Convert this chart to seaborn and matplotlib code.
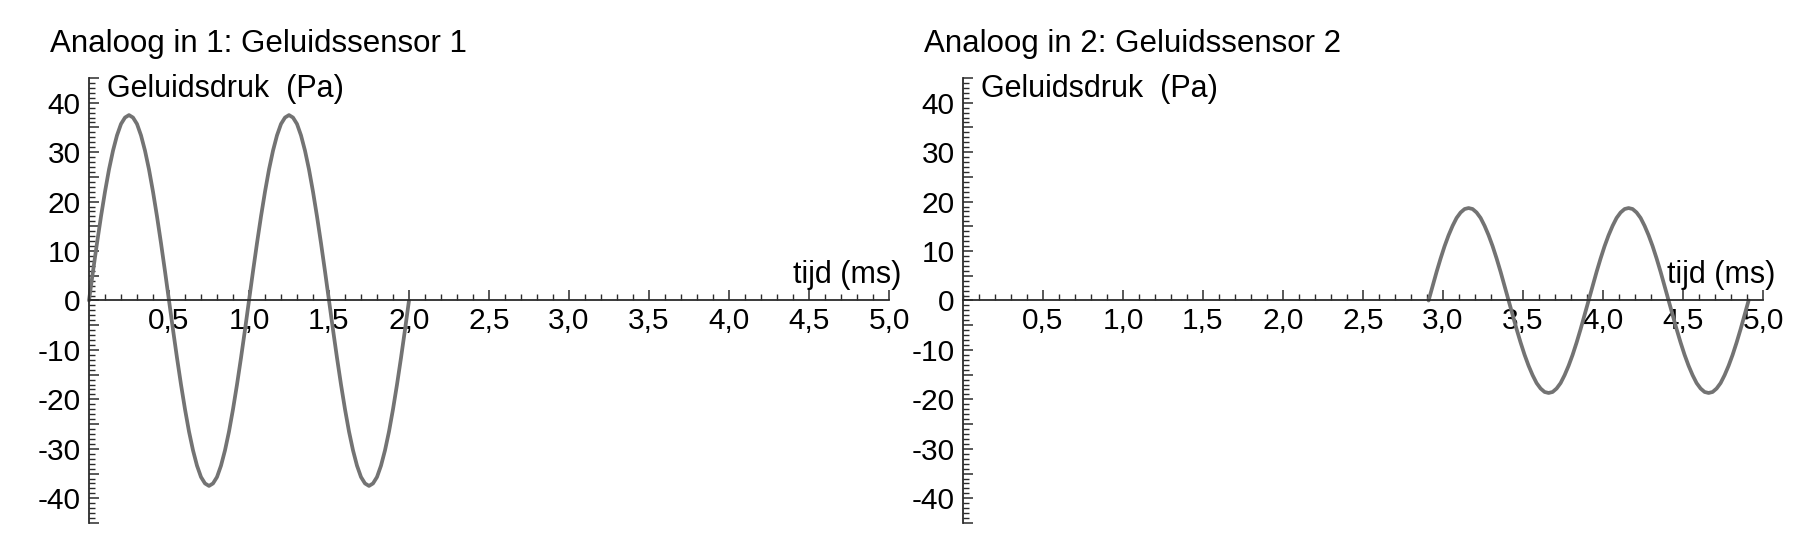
import pandas as pd
import matplotlib
matplotlib.use("Agg")
import matplotlib.pyplot as plt
from matplotlib.ticker import MultipleLocator, FixedLocator, FuncFormatter
import seaborn as sns

# tijd (ms) en geluidsdruk (Pa)
t_sensor1 = [0.000, 0.025, 0.050, 0.075, 0.100, 0.125, 0.150, 0.175, 0.200, 0.225,
             0.250, 0.275, 0.300, 0.325, 0.350, 0.375, 0.400, 0.425, 0.450, 0.475,
             0.500, 0.525, 0.550, 0.575, 0.600, 0.625, 0.650, 0.675, 0.700, 0.725,
             0.750, 0.775, 0.800, 0.825, 0.850, 0.875, 0.900, 0.925, 0.950, 0.975,
             1.000, 1.025, 1.050, 1.075, 1.100, 1.125, 1.150, 1.175, 1.200, 1.225,
             1.250, 1.275, 1.300, 1.325, 1.350, 1.375, 1.400, 1.425, 1.450, 1.475,
             1.500, 1.525, 1.550, 1.575, 1.600, 1.625, 1.650, 1.675, 1.700, 1.725,
             1.750, 1.775, 1.800, 1.825, 1.850, 1.875, 1.900, 1.925, 1.950, 1.975,
             2.000]
p_sensor1 = [0.0, 5.9, 11.6, 17.0, 22.0, 26.5, 30.3, 33.4, 35.7, 37.0,
             37.5, 37.0, 35.7, 33.4, 30.3, 26.5, 22.0, 17.0, 11.6, 5.9,
             0.0, -5.9, -11.6, -17.0, -22.0, -26.5, -30.3, -33.4, -35.7, -37.0,
             -37.5, -37.0, -35.7, -33.4, -30.3, -26.5, -22.0, -17.0, -11.6, -5.9,
             0.0, 5.9, 11.6, 17.0, 22.0, 26.5, 30.3, 33.4, 35.7, 37.0,
             37.5, 37.0, 35.7, 33.4, 30.3, 26.5, 22.0, 17.0, 11.6, 5.9,
             0.0, -5.9, -11.6, -17.0, -22.0, -26.5, -30.3, -33.4, -35.7, -37.0,
             -37.5, -37.0, -35.7, -33.4, -30.3, -26.5, -22.0, -17.0, -11.6, -5.9,
             0.0]

t_sensor2 = [2.910, 2.935, 2.960, 2.985, 3.010, 3.035, 3.060, 3.085, 3.110, 3.135,
             3.160, 3.185, 3.210, 3.235, 3.260, 3.285, 3.310, 3.335, 3.360, 3.385,
             3.410, 3.435, 3.460, 3.485, 3.510, 3.535, 3.560, 3.585, 3.610, 3.635,
             3.660, 3.685, 3.710, 3.735, 3.760, 3.785, 3.810, 3.835, 3.860, 3.885,
             3.910, 3.935, 3.960, 3.985, 4.010, 4.035, 4.060, 4.085, 4.110, 4.135,
             4.160, 4.185, 4.210, 4.235, 4.260, 4.285, 4.310, 4.335, 4.360, 4.385,
             4.410, 4.435, 4.460, 4.485, 4.510, 4.535, 4.560, 4.585, 4.610, 4.635,
             4.660, 4.685, 4.710, 4.735, 4.760, 4.785, 4.810, 4.835, 4.860, 4.885,
             4.910]
p_sensor2 = [0.0, 2.9, 5.8, 8.5, 11.0, 13.2, 15.1, 16.7, 17.8, 18.5,
             18.7, 18.5, 17.8, 16.7, 15.1, 13.2, 11.0, 8.5, 5.8, 2.9,
             0.0, -2.9, -5.8, -8.5, -11.0, -13.2, -15.1, -16.7, -17.8, -18.5,
             -18.7, -18.5, -17.8, -16.7, -15.1, -13.2, -11.0, -8.5, -5.8, -2.9,
             0.0, 2.9, 5.8, 8.5, 11.0, 13.2, 15.1, 16.7, 17.8, 18.5,
             18.7, 18.5, 17.8, 16.7, 15.1, 13.2, 11.0, 8.5, 5.8, 2.9,
             0.0, -2.9, -5.8, -8.5, -11.0, -13.2, -15.1, -16.7, -17.8, -18.5,
             -18.7, -18.5, -17.8, -16.7, -15.1, -13.2, -11.0, -8.5, -5.8, -2.9,
             0.0]

titles = ["Analoog in 1: Geluidssensor 1", "Analoog in 2: Geluidssensor 2"]
x_ticks = [0.5, 1.0, 1.5, 2.0, 2.5, 3.0, 3.5, 4.0, 4.5, 5.0]
y_ticks = [-40, -30, -20, -10, 0, 10, 20, 30, 40]

sns.set_style("white")
plt.rcParams["font.family"] = ["Liberation Sans", "DejaVu Sans"]
plt.rcParams["axes.unicode_minus"] = False
plt.rcParams["text.color"] = "black"
plt.rcParams["xtick.color"] = "black"
plt.rcParams["ytick.color"] = "black"

fig = plt.figure(figsize=(18.2, 5.38), dpi=100)
W, H = 1820, 538

line_col = "#737373"
axis_col = "#2b2b2b"


def style_axes(ax):
    ax.set_xlim(0, 5.0)
    ax.set_ylim(-45, 45)
    for s in ["top", "right"]:
        ax.spines[s].set_visible(False)
    ax.spines["left"].set_position(("data", 0))
    ax.spines["bottom"].set_position(("data", 0))
    for s in ["left", "bottom"]:
        ax.spines[s].set_color(axis_col)
        ax.spines[s].set_linewidth(1.3)
    ax.xaxis.set_major_locator(FixedLocator(x_ticks))
    ax.xaxis.set_minor_locator(MultipleLocator(0.1))
    ax.xaxis.set_major_formatter(FuncFormatter(lambda v, p: f"{v:.1f}".replace(".", ",")))
    ax.yaxis.set_major_locator(MultipleLocator(5))
    ax.yaxis.set_minor_locator(MultipleLocator(1))
    ax.yaxis.set_major_formatter(FuncFormatter(
        lambda v, p: f"{int(round(v))}" if int(round(v)) in y_ticks else ""))
    ax.tick_params(which="both", bottom=True, left=True, top=False, right=False)
    ax.tick_params(axis="x", which="major", direction="in", length=7, width=1.1,
                   color=axis_col, labelsize=21.5, pad=5)
    ax.tick_params(axis="x", which="minor", direction="in", length=4.5, width=1.0,
                   color=axis_col)
    ax.tick_params(axis="y", which="major", direction="in", length=7, width=1.1,
                   color=axis_col, labelsize=21.5, pad=6)
    ax.tick_params(axis="y", which="minor", direction="in", length=4, width=1.0,
                   color=axis_col)
    ax.set_xlabel("")
    ax.set_ylabel("")
    ax.text(0.11, 41.2, "Geluidsdruk  (Pa)", fontsize=22, ha="left", va="baseline")
    ax.text(5.08, 3.6, "tijd (ms)", fontsize=22, ha="right", va="baseline", clip_on=False)


panels = [
    (89, t_sensor1, p_sensor1, titles[0]),
    (963, t_sensor2, p_sensor2, titles[1]),
]
for x0, t, p, title in panels:
    ax = fig.add_axes([x0 / W, 1 - 523 / H, 800 / W, 445 / H])
    ax.patch.set_alpha(0)
    df = pd.DataFrame({"tijd": t, "druk": p})
    sns.lineplot(data=df, x="tijd", y="druk", ax=ax, color=line_col,
                 linewidth=2.7, clip_on=False)
    style_axes(ax)
    fig.text((x0 - 39) / W, 1 - 52 / H, title, fontsize=22.5, ha="left", va="baseline")

fig.savefig("out.png", dpi=100, facecolor="white")
